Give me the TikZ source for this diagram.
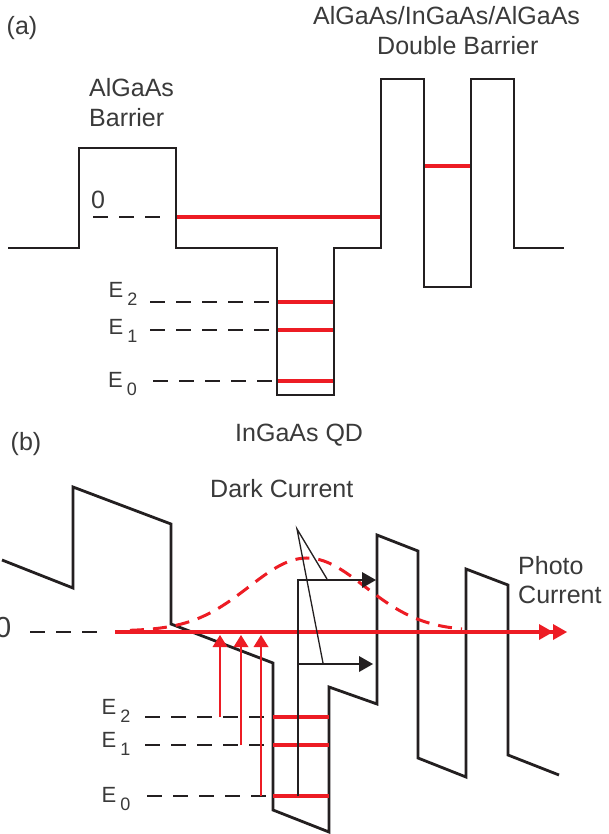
\documentclass[tikz,border=0pt]{standalone}
\usepackage{fontspec}
\setmainfont{Liberation Sans}
\usetikzlibrary{arrows.meta}
\definecolor{txt}{HTML}{3A3A3A}
\definecolor{ink}{HTML}{231F20}
\definecolor{rd}{HTML}{ED1C24}
\newcommand{\Elab}[1]{E\kern4pt\raisebox{-8.5pt}{\fontsize{18}{20}\selectfont #1}}
\begin{document}
\begin{tikzpicture}[x=1pt,y=-1pt,
  lbl/.style={inner sep=0pt, text=txt, font=\fontsize{25}{30}\selectfont, anchor=base west},
  elbl/.style={inner sep=0pt, text=txt, font=\fontsize{22}{26}\selectfont, anchor=base west},
  band/.style={draw=ink, line width=2.8pt, line join=miter},
  lvl/.style={draw=rd, line width=4.6pt},
  guide/.style={draw=ink, line width=2pt, dash pattern=on 15pt off 11pt},
  rguide/.style={draw=rd, line width=3pt, dash pattern=on 14pt off 9pt},
  thin/.style={draw=ink, line width=1.3pt},
  barrow/.style={draw=ink, line width=2.6pt, -{Triangle[length=14pt,width=16pt,line width=0pt]}},
  rarrow/.style={draw=rd, line width=2.6pt, -{Triangle[length=12pt,width=15pt,line width=0pt]}},
  bigarrow/.style={draw=rd, line width=4.6pt, -{Triangle[length=14pt,width=16pt,line width=0pt]Triangle[length=14pt,width=16pt,line width=0pt]}}
]
\useasboundingbox (0,0) rectangle (608,834);
\fill[white] (0,0) rectangle (608,834);

% ---------------- (a) ----------------
\node[lbl] (ta) at (6.5,35) {(a)};
\node[lbl] (algaas) at (89,97) {AlGaAs};
\node[lbl] (barrier) at (89,127) {Barrier};
\node[lbl] (db1) at (313,25) {AlGaAs/InGaAs/AlGaAs};
\node[lbl] (db2) at (377,55) {Double Barrier};
\node[lbl] (qd) at (235,441) {InGaAs QD};

% levels (a)
\path[lvl] (176,217) -- (381,217);
\path[lvl] (424,166) -- (470,166);
\path[lvl] (277,302) -- (334,302);
\path[lvl] (277,330) -- (334,330);
\path[lvl] (277,381) -- (334,381);

% band (a)
\path[band] (8,248) -- (79,248) -- (79,148) -- (176,148) -- (176,248) -- (277,248)
  -- (277,395) -- (334,395) -- (334,248) -- (381,248) -- (381,79) -- (424,79)
  -- (424,287) -- (471,287) -- (471,79) -- (514,79) -- (514,248) -- (564,248);

% guides (a)
\path[guide] (93,217) -- (165,217);
\path[guide] (150,302) -- (272,302);
\path[guide] (150,330) -- (272,330);
\path[guide] (153,381) -- (272,381);

\node[inner sep=0pt, text=txt, font=\fontsize{25}{30}\selectfont, anchor=base west] (za) at (91,208) {0};
\node[elbl] (ea2) at (108.5,297) {\Elab{2}};
\node[elbl] (ea1) at (108.5,334) {\Elab{1}};
\node[elbl] (ea0) at (108,387) {\Elab{0}};

% ---------------- (b) ----------------
\node[lbl] (tb) at (10.5,450) {(b)};
\node[lbl] (dark) at (210,497) {Dark Current};
\node[lbl] (photo) at (518,574) {Photo};
\node[lbl] (curr) at (518,603) {Current};
\node[inner sep=0pt, text=txt, font=\fontsize{29}{34}\selectfont, anchor=base east] (zb) at (11.5,637) {0};

% band (b)
\path[band] (2,560) -- (73,588) -- (73,487) -- (171,524) -- (171,624) -- (273,663)
  -- (273,810) -- (329,832) -- (329,687) -- (377,704) -- (377,535) -- (418,551)
  -- (418,758) -- (466,777) -- (466,569) -- (508,585) -- (508,755) -- (559,775);

% guides (b)
\path[guide] (30,632) -- (104,632);
\path[guide] (145,717) -- (268,717);
\path[guide] (145,745) -- (268,745);
\path[guide] (147,796) -- (268,796);

\node[elbl] (eb2) at (101.5,714) {\Elab{2}};
\node[elbl] (eb1) at (101.5,747) {\Elab{1}};
\node[elbl] (eb0) at (101.5,802) {\Elab{0}};

% red levels (b)
\path[lvl] (273,717) -- (329,717);
\path[lvl] (273,745) -- (329,745);
\path[lvl] (273,796) -- (329,796);

% gaussian
\draw[rguide] plot[domain=130:462, samples=80, smooth] (\x, {631-73*exp(-0.5*((\x-307)/58)^2)});

% photo current arrow
\path[bigarrow] (115,632) -- (567,632);

% excitation arrows
\path[rarrow] (220,717) -- (220,635);
\path[rarrow] (241,745) -- (241,635);
\path[rarrow] (261,796) -- (261,635);

% dark current arrows
\path[barrow] (298,796) -- (298,580) -- (376,580);
\path[barrow] (298,664) -- (373,664);
\coordinate (apex) at (297,529);
\path[thin] (327,579) -- (apex) -- (323,663);
\end{tikzpicture}
\end{document}
